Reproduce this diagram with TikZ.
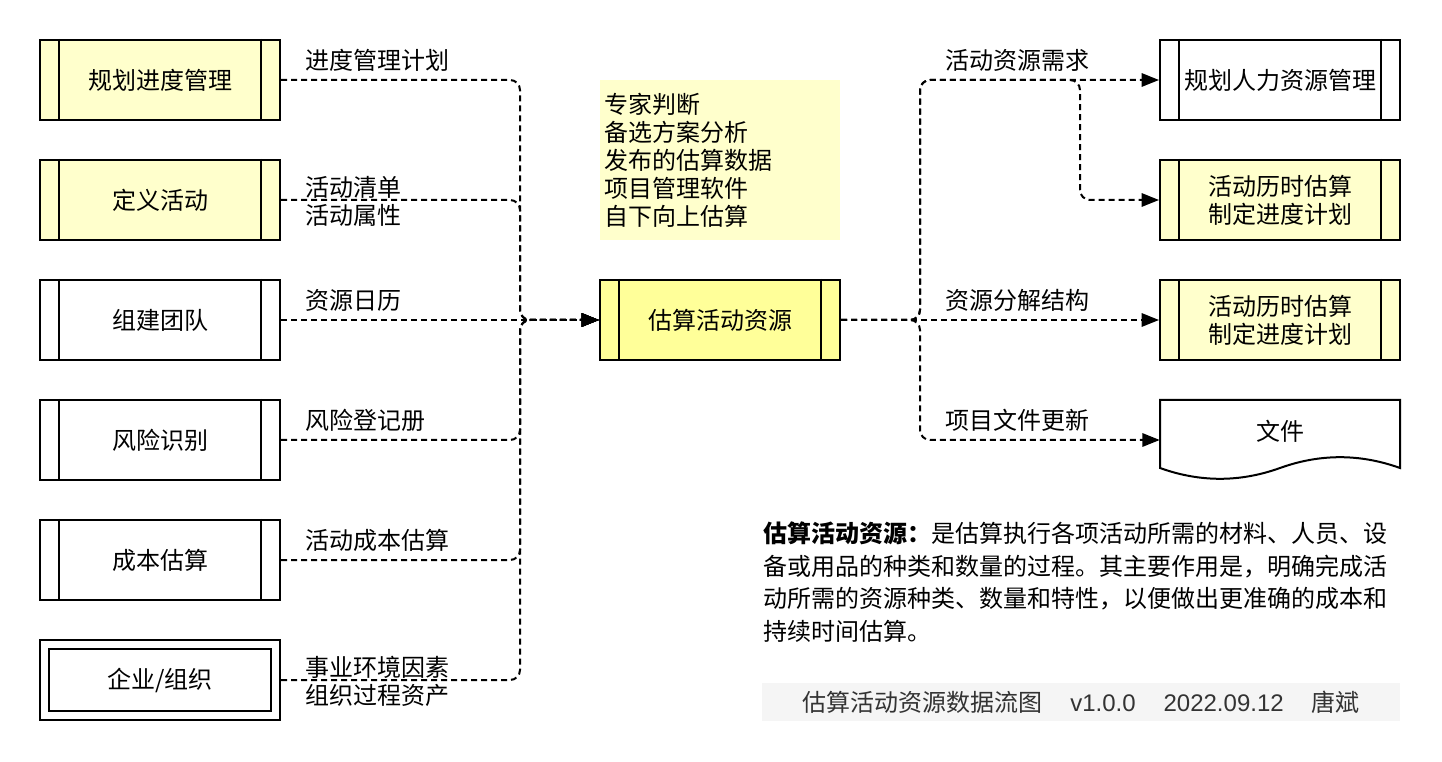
\documentclass[tikz,border=0pt]{standalone}
\usepackage{fontspec}
\setmainfont{Noto Sans CJK SC}
\newfontfamily\lat{Liberation Sans}
\usetikzlibrary{arrows.meta}
\definecolor{lightyel}{HTML}{FFFFCC}
\definecolor{yel}{HTML}{FFFF99}
\definecolor{band}{HTML}{F5F5F5}
\definecolor{foot}{HTML}{333333}
\begin{document}
\begin{tikzpicture}[x=0.75pt,y=-0.75pt,
  txt/.style={font=\fontsize{18pt}{21pt}\selectfont, inner sep=0pt},
  proc/.style={draw, line width=1.5pt, minimum width=180pt, minimum height=60pt, inner sep=0pt, align=center, font=\fontsize{18pt}{21pt}\selectfont},
  flow/.style={line width=1.5pt, dash pattern=on 4.5pt off 3pt, rounded corners=7.5pt, -{Triangle[length=13pt,width=10pt]}},
  lbl/.style={txt, anchor=west, align=left}]
\useasboundingbox (0,0) rectangle (1442,762);

% left boxes
\node[proc, fill=lightyel] (b1) at (160,80) {规划进度管理};
\node[proc, fill=lightyel] (b2) at (160,200) {定义活动};
\node[proc, fill=white] (b3) at (160,320) {组建团队};
\node[proc, fill=white] (b4) at (160,440) {风险识别};
\node[proc, fill=white] (b5) at (160,560) {成本估算};
\node[proc, fill=white] (b6) at (160,680) {企业/组织};
\draw[line width=1.5pt] ([shift={(7.5pt,-7.5pt)}]b6.north west) rectangle ([shift={(-7.5pt,7.5pt)}]b6.south east);

% centre
\node[proc, fill=yel] (c) at (720,320) {估算活动资源};
\node[fill=lightyel, minimum width=180pt, minimum height=120pt, inner xsep=3pt, inner ysep=0pt,
      text width=174pt, align=left, font=\fontsize{18pt}{21pt}\selectfont] (note) at (720,160.5)
      {专家判断\\备选方案分析\\发布的估算数据\\项目管理软件\\自下向上估算};

% right boxes
\node[proc, fill=white] (r1) at (1280,80) {规划人力资源管理};
\node[proc, fill=lightyel] (r2) at (1280,200) {活动历时估算\\制定进度计划};
\node[proc, fill=lightyel] (r3) at (1280,320) {活动历时估算\\制定进度计划};
\node[minimum width=180pt, minimum height=60pt, inner sep=0pt] (doc) at (1280,440) {};
\draw[line width=1.5pt, fill=white] (1160,468) -- (1160,400) -- (1400,400) -- (1400,468)
  .. controls (1360,453.6) and (1320,453.6) .. (1280,468)
  .. controls (1240,482.4) and (1200,482.4) .. (1160,468) -- cycle;
\node[txt] (doct) at (1280,431) {文件};

\foreach \n in {b1,b2,b3,b4,b5,c,r1,r2,r3}{
  \draw[line width=1.5pt] ([xshift=15pt]\n.north west) -- ([xshift=15pt]\n.south west)
    ([xshift=-15pt]\n.north east) -- ([xshift=-15pt]\n.south east);
}

% connectors
\coordinate (mL) at (520,320);
\coordinate (mR) at (920,320);
\coordinate (k) at (1080,80);
\draw[flow] (b1.east) -| (mL) -- (c.west);
\draw[flow] (b2.east) -| (mL) -- (c.west);
\draw[flow] (b3.east) -- (c.west);
\draw[flow] (b4.east) -| (mL) -- (c.west);
\draw[flow] (b5.east) -| (mL) -- (c.west);
\draw[flow] (b6.east) -| (mL) -- (c.west);
\draw[flow] (c.east) -- (mR) |- (r1.west);
\draw[flow] (c.east) -- (mR) |- (k) |- (r2.west);
\draw[flow] (c.east) -- (r3.west);
\draw[flow] (c.east) -- (mR) |- (doc.west);

% labels
\node[lbl] (l1) at (305,60) {进度管理计划};
\node[lbl] (l2) at (305,201) {活动清单\\活动属性};
\node[lbl] (l3) at (305,300) {资源日历};
\node[lbl] (l4) at (305,420) {风险登记册};
\node[lbl] (l5) at (305,540) {活动成本估算};
\node[lbl] (l6) at (305,681) {事业环境因素\\组织过程资产};
\node[lbl] (l7) at (945,60) {活动资源需求};
\node[lbl] (l8) at (945,300) {资源分解结构};
\node[lbl] (l9) at (945,420) {项目文件更新};

% description
\node[anchor=west, align=left, inner sep=0pt, font=\fontsize{18pt}{24.5pt}\selectfont] (desc) at (763,582)
 {{\bfseries 估算活动资源：}是估算执行各项活动所需的材料、人员、设\\
  备或用品的种类和数量的过程。其主要作用是，明确完成活\\
  动所需的资源种类、数量和特性，以便做出更准确的成本和\\
  持续时间估算。};

% footer
\node[fill=band, minimum width=478.5pt, minimum height=28.5pt, inner sep=0pt, text=foot,
      font=\fontsize{18pt}{21pt}\selectfont] (ft) at (1081,702)
 {估算活动资源数据流图\hspace{21pt}{\lat v1.0.0}\hspace{21pt}{\lat 2022.09.12}\hspace{21pt}唐斌};
\end{tikzpicture}
\end{document}
